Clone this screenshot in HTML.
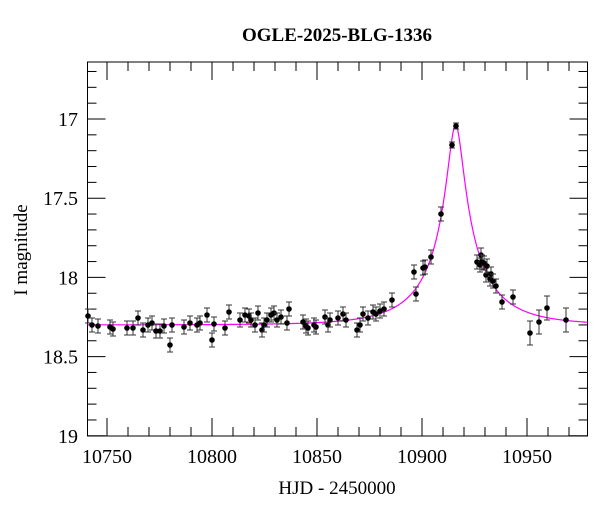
<!DOCTYPE html>
<html><head><meta charset="utf-8"><style>
html,body{margin:0;padding:0;background:#fff;}
svg{display:block;font-family:"Liberation Serif",serif;}
</style></head><body>
<svg id="s" width="600" height="512" xmlns="http://www.w3.org/2000/svg">
<rect width="600" height="512" fill="#fff"/>
<text x="337" y="41" text-anchor="middle" font-size="19" font-weight="bold">OGLE-2025-BLG-1336</text>
<g id="ax" stroke="#000" stroke-width="1" fill="none"></g>
<g id="lab" font-size="20" fill="#000"></g>
<path id="cv" fill="none" stroke="#ff00ff" stroke-width="1.2"/>
<g id="pts"></g>
<text x="337" y="494" text-anchor="middle" font-size="19">HJD - 2450000</text>
<text transform="translate(27,250) rotate(-90)" text-anchor="middle" font-size="19">I magnitude</text>
</svg>
<script>
const L=87.5,R=587.5,T=62,B=436;
const X=t=>107+(t-10750)*2.1, Y=m=>119+(m-17)*158.4;
let ax='<rect x="'+L+'" y="'+T+'" width="'+(R-L)+'" height="'+(B-T)+'"/>';
for(let t=10750;t<=10970;t+=10){const x=X(t),len=(t%50==0)?18:9;ax+=`<line x1="${x}" y1="${B}" x2="${x}" y2="${B-len}"/><line x1="${x}" y1="${T}" x2="${x}" y2="${T+len}"/>`;}
for(let k=170;k<=190;k++){const m=k/10,y=Y(m),len=(k%5==0)?18:9;ax+=`<line x1="${L}" y1="${y}" x2="${L+len}" y2="${y}"/><line x1="${R}" y1="${y}" x2="${R-len}" y2="${y}"/>`;}
for(let k=167;k<170;k++){const y=Y(k/10);ax+=`<line x1="${L}" y1="${y}" x2="${L+9}" y2="${y}"/><line x1="${R}" y1="${y}" x2="${R-9}" y2="${y}"/>`;}
document.getElementById('ax').innerHTML=ax;
let lb='';
[10750,10800,10850,10900,10950].forEach(t=>lb+=`<text x="${X(t)}" y="463" text-anchor="middle">${t}</text>`);
[['17',17],['17.5',17.5],['18',18],['18.5',18.5],['19',19]].forEach(a=>lb+=`<text x="78" y="${Y(a[1])+7}" text-anchor="end">${a[0]}</text>`);
document.getElementById('lab').innerHTML=lb;
const t0=10916,u0=0.121,tE=30,fs=0.3,base=18.30;
let d='';
for(let x=L;x<=R;x+=0.5){const t=10750+(x-107)/2.1;const tau=(t-t0)/tE;const u=Math.sqrt(u0*u0+tau*tau);const A=(u*u+2)/(u*Math.sqrt(u*u+4));const m=base-2.5*Math.log10(1+fs*(A-1));d+=(d?'L':'M')+x.toFixed(1)+','+Y(m).toFixed(1);}
document.getElementById('cv').setAttribute('d',d);
const P=[[88,316],[92,325],[98,326],[110,327],[113,329],[127,328],[133,328],[138,318],[143,330],[148,325],[152,323],[156,331],[160,331],[164,326],[170,345],[172,325],[184,327],[190,323],[197,325],[200,323],[207,315],[212,340],[214,324],[225,328],[229,312],[240,320],[245,315],[249,316],[251,320],[255,325],[258,313],[262,330],[264,325],[267,320],[271,315],[274,313],[277,320],[281,317],[287,323],[289,309],[303,322],[306,326],[308,328],[314,325],[316,327],[325,317],[328,325],[330,320],[338,318],[343,314],[346,320],[357,330],[360,325],[363,314],[368,318],[373,312],[376,314],[380,311],[384,309],[392,300],[414,272],[416,294],[423,268],[425,267],[431,257],[441,214],[452,145],[456,126],[477,262],[480,265],[481,255],[482,262],[484,263],[486,275],[487,266],[490,279],[491,274],[493,281],[496,286],[502,302],[513,297],[530,333],[539,322],[547,308],[566,320]];
let ps='';
P.forEach(p=>{const[x,y]=p;const e=(y<150)?3:(x>525?12:7);ps+=`<g stroke="#333" stroke-width="1"><line x1="${x}" y1="${y-e}" x2="${x}" y2="${y+e}"/><line x1="${x-3}" y1="${y-e}" x2="${x+3}" y2="${y-e}"/><line x1="${x-3}" y1="${y+e}" x2="${x+3}" y2="${y+e}"/></g><circle cx="${x}" cy="${y}" r="2.8" fill="#000"/>`;});
document.getElementById('pts').innerHTML=ps;
</script>
</body></html>
